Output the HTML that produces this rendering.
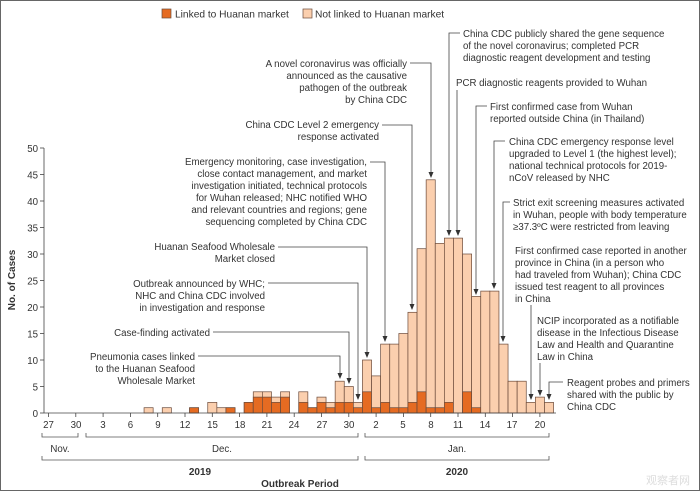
<!DOCTYPE html>
<html><head><meta charset="utf-8"><style>
html,body{margin:0;padding:0;background:#fff;}
svg{display:block;font-family:"Liberation Sans","Noto Sans CJK SC",sans-serif;}
text{font-size:9.7px;fill:#333;}
.b{font-weight:bold;font-size:10px;}
</style></head><body>
<svg id="s" width="700" height="491" viewBox="0 0 700 491" xmlns="http://www.w3.org/2000/svg">
<rect x="0.5" y="0.5" width="699" height="490" fill="#fff" stroke="#666"/>
<rect x="162" y="9" width="9" height="9" fill="#e56b22" stroke="#6b4a3a" stroke-width="0.7"/>
<text x="175" y="17.5" style="font-size:10.2px">Linked to Huanan market</text>
<rect x="303" y="9" width="9" height="9" fill="#fbcfae" stroke="#6b4a3a" stroke-width="0.7"/>
<text x="315" y="17.5" style="font-size:10.2px">Not linked to Huanan market</text>
<g id="bars"></g>
<g stroke="#444" stroke-width="0.8" fill="none">
<line x1="44" y1="148" x2="44" y2="413"/>
<line x1="44" y1="413" x2="556" y2="413"/>
</g>
<g id="yt"></g>
<g id="xt"></g>
<text class="b" transform="translate(15,280) rotate(-90)" text-anchor="middle">No. of Cases</text>
<g stroke="#555" stroke-width="0.8" fill="none">
<path d="M42,433V437H78V433"/>
<path d="M86,433V437H358V433"/>
<path d="M365,433V437H549V433"/>
<path d="M42,456V460H358V456"/>
<path d="M365,456V460H549V456"/>
</g>
<text x="60" y="452" text-anchor="middle">Nov.</text>
<text x="222" y="452" text-anchor="middle">Dec.</text>
<text x="457" y="452" text-anchor="middle">Jan.</text>
<text class="b" x="200" y="475" text-anchor="middle">2019</text>
<text class="b" x="457" y="475" text-anchor="middle">2020</text>
<text class="b" x="300" y="487" text-anchor="middle">Outbreak Period</text>
<text x="690" y="484" text-anchor="end" style="fill:#ddd;font-size:11px">观察者网</text>

<g stroke="#444" stroke-width="0.8" fill="none">
<path d="M410,63H431V174"/>
<path d="M382,125H412V306"/>
<path d="M370,162H385V338"/>
<path d="M278,247H367V354"/>
<path d="M268,283H358V396"/>
<path d="M213,332H349V380"/>
<path d="M198,356H340V375"/>
<path d="M460,33H449V232"/>
<path d="M457,90V232"/>
<path d="M487,106H476V291"/>
<path d="M505,141H494V285"/>
<path d="M510,202H503V338"/>
<path d="M531,305V396"/>
<path d="M540,363V392"/>
<path d="M563,382H549V396"/>
</g>
<g id="arr" fill="#333"></g>

<g text-anchor="end">
<text x="407" y="67">A novel coronavirus was officially</text>
<text x="407" y="79">announced as the causative</text>
<text x="407" y="91">pathogen of the outbreak</text>
<text x="407" y="103">by China CDC</text>
<text x="379" y="128">China CDC Level 2 emergency</text>
<text x="379" y="140">response activated</text>
<text x="367" y="165">Emergency monitoring, case investigation,</text>
<text x="367" y="177">close contact management, and market</text>
<text x="367" y="189">investigation initiated, technical protocols</text>
<text x="367" y="201">for Wuhan released; NHC notified WHO</text>
<text x="367" y="213">and relevant countries and regions; gene</text>
<text x="367" y="225">sequencing completed by China CDC</text>
<text x="275" y="250">Huanan Seafood Wholesale</text>
<text x="275" y="262">Market closed</text>
<text x="265" y="287">Outbreak announced by WHC;</text>
<text x="265" y="299">NHC and China CDC involved</text>
<text x="265" y="311">in investigation and response</text>
<text x="210" y="336">Case-finding activated</text>
<text x="195" y="360">Pneumonia cases linked</text>
<text x="195" y="372">to the Huanan Seafood</text>
<text x="195" y="384">Wholesale Market</text>
</g>
<g>
<text x="463" y="37">China CDC publicly shared the gene sequence</text>
<text x="463" y="49">of the novel coronavirus; completed PCR</text>
<text x="463" y="61">diagnostic reagent development and testing</text>
<text x="456" y="86">PCR diagnostic reagents provided to Wuhan</text>
<text x="490" y="110">First confirmed case from Wuhan</text>
<text x="490" y="122">reported outside China (in Thailand)</text>
<text x="509" y="145">China CDC emergency response level</text>
<text x="509" y="157">upgraded to Level 1 (the highest level);</text>
<text x="509" y="169">national technical protocols for 2019-</text>
<text x="509" y="181">nCoV released by NHC</text>
<text x="513" y="206">Strict exit screening measures activated</text>
<text x="513" y="218">in Wuhan, people with body temperature</text>
<text x="513" y="230">≥37.3ºC were restricted from leaving</text>
<text x="515" y="254">First confirmed case reported in another</text>
<text x="515" y="266">province in China (in a person who</text>
<text x="515" y="278">had traveled from Wuhan); China CDC</text>
<text x="515" y="290">issued test reagent to all provinces</text>
<text x="515" y="302">in China</text>
<text x="537" y="324">NCIP incorporated as a notifiable</text>
<text x="537" y="336">disease in the Infectious Disease</text>
<text x="537" y="348">Law and Health and Quarantine</text>
<text x="537" y="360">Law in China</text>
<text x="567" y="386">Reagent probes and primers</text>
<text x="567" y="398">shared with the public by</text>
<text x="567" y="410">China CDC</text>
</g>
<g text-anchor="end">
<text x="38" y="417">0</text><text x="38" y="390.5">5</text><text x="38" y="364">10</text>
<text x="38" y="337.5">15</text><text x="38" y="311">20</text><text x="38" y="284.5">25</text>
<text x="38" y="258">30</text><text x="38" y="231.5">35</text><text x="38" y="205">40</text>
<text x="38" y="178.5">45</text><text x="38" y="152">50</text>
</g>
<g text-anchor="middle">
<text x="48.5" y="428">27</text><text x="76" y="428">30</text><text x="103" y="428">3</text>
<text x="130.5" y="428">6</text><text x="158" y="428">9</text><text x="185" y="428">12</text>
<text x="212.5" y="428">15</text><text x="240" y="428">18</text><text x="267" y="428">21</text>
<text x="294" y="428">24</text><text x="322" y="428">27</text><text x="349" y="428">30</text>
<text x="376" y="428">2</text><text x="403" y="428">5</text><text x="431" y="428">8</text>
<text x="458" y="428">11</text><text x="485" y="428">14</text><text x="512" y="428">17</text>
<text x="540" y="428">20</text>
</g>
</svg>
<script>
var NS="http://www.w3.org/2000/svg";
function el(t,a,p){var e=document.createElementNS(NS,t);for(var k in a)e.setAttribute(k,a[k]);document.getElementById(p).appendChild(e);}
var X=function(d){return 48.5+d*9.1;},Y=function(v){return 413-v*5.3;};
var data=[[11,1,0],[13,1,0],[16,1,1],[18,2,0],[19,1,0],[20,1,1],[22,2,2],[23,4,3],[24,4,3],[25,3,2],[26,4,3],[28,4,2],[29,1,1],[30,3,2],[31,2,1],[32,6,2],[33,5,2],[34,2,1],[35,10,4],[36,7,1],[37,13,2],[38,13,1],[39,15,1],[40,19,2],[41,31,4],[42,44,1],[43,32,1],[44,33,2],[45,33,0],[46,30,4],[47,22,1],[48,23,0],[49,23,0],[50,13,0],[51,6,0],[52,6,0],[53,2,0],[54,3,0],[55,2,0]];
data.forEach(function(r){var x=X(r[0])-4.55;
el("rect",{x:x,y:Y(r[1]),width:9.1,height:r[1]*5.3,fill:"#fbcfae",stroke:"#6b4a3a","stroke-width":0.7},"bars");
if(r[2])el("rect",{x:x,y:Y(r[2]),width:9.1,height:r[2]*5.3,fill:"#e56b22",stroke:"#6b4a3a","stroke-width":0.7},"bars");});
for(var v=0;v<=50;v+=5)el("line",{x1:40,x2:44,y1:Y(v),y2:Y(v),stroke:"#444","stroke-width":0.8},"yt");
for(var d=0;d<=54;d+=3)el("line",{x1:X(d),x2:X(d),y1:413,y2:417,stroke:"#444","stroke-width":0.8},"xt");
[[431,180],[412,312],[385,344],[367,360],[358,402],[349,386],[340,381],[449,238],[458,238],[476,297],[494,291],[503,344],[531,402],[540,398],[549,402]].forEach(function(a){
el("path",{d:"M"+(a[0]-2.5)+","+(a[1]-8)+"L"+(a[0]+2.5)+","+(a[1]-8)+"L"+a[0]+","+(a[1]-2)+"Z"},"arr");});
</script>
</body></html>
